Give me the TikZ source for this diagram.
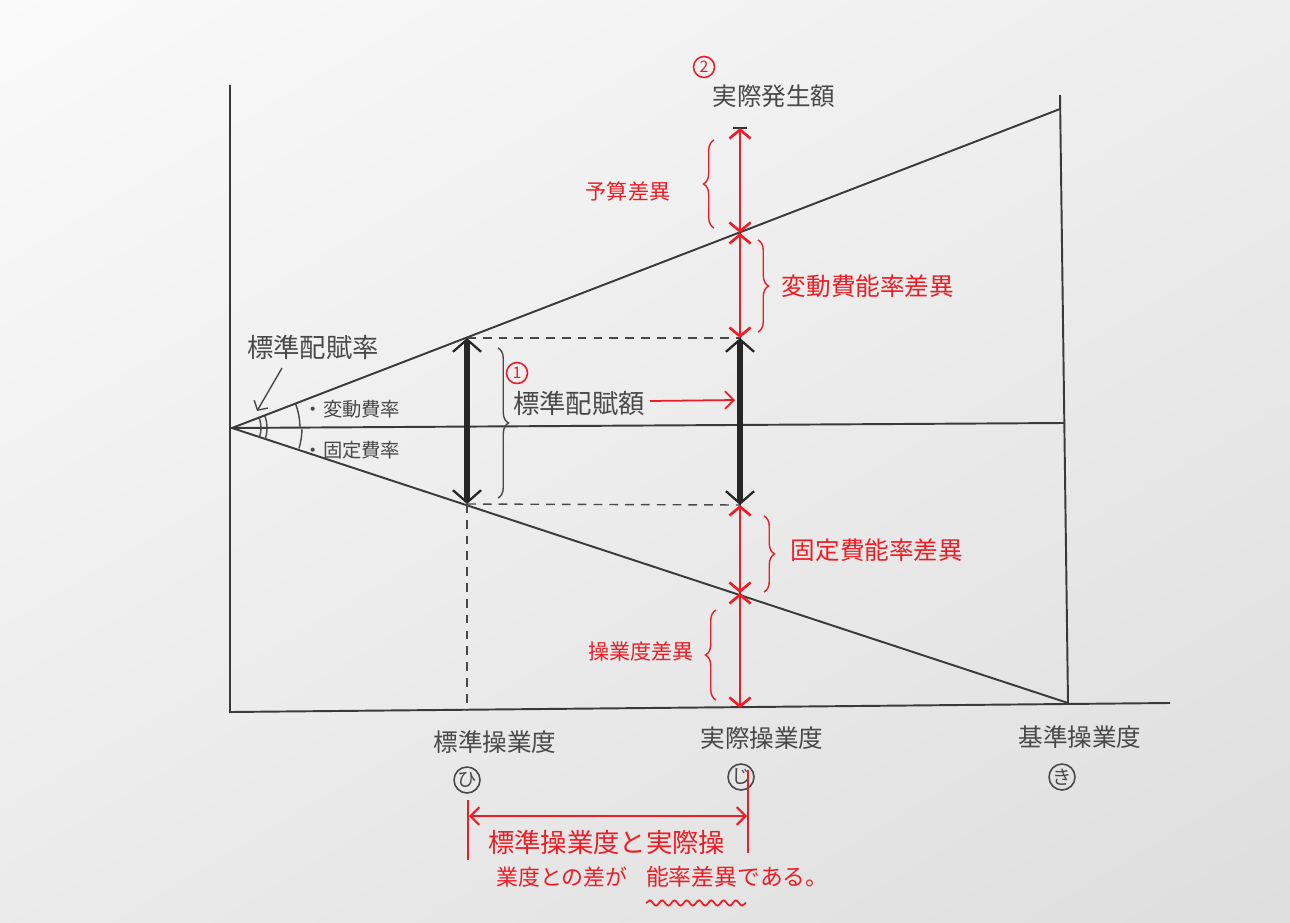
\documentclass[tikz,border=0pt]{standalone}
\usepackage{fontspec}
\setmainfont{Noto Sans CJK JP}
\usetikzlibrary{positioning,calc,arrows.meta,shadings,decorations.pathreplacing,decorations.pathmorphing}

\definecolor{pen}{RGB}{72,72,72}
\definecolor{redpen}{RGB}{238,28,36}

\begin{document}
\begin{tikzpicture}[x=0.02cm, y=-0.02cm,
	lbl/.style={font=\fontsize{14}{16}\selectfont, text=pen, inner sep=1pt},
	rlbl/.style={lbl, text=redpen},
	axis/.style={draw=pen!80!black, line width=1.1pt},
	guide/.style={draw=pen, line width=0.8pt, dash pattern=on 5pt off 4pt},
	tick/.style={draw=pen, circle, line width=0.9pt, minimum size=0.52cm, inner sep=0pt, font=\fontsize{11}{12}\selectfont, text=pen},
	num/.style={draw=redpen, circle, line width=0.9pt, minimum size=0.42cm, inner sep=0pt, font=\fontsize{9}{10}\selectfont, text=redpen},
	bigarr/.style={draw=black!85, line width=3.5pt, {Straight Barb[line width=1.3pt, length=7pt, width=16pt]}-{Straight Barb[line width=1.3pt, length=7pt, width=16pt]}},
	redarr/.style={draw=redpen, line width=1.5pt, {Straight Barb[length=5pt, width=12pt]}-{Straight Barb[length=5pt, width=12pt]}},
	brc/.style={draw=pen, line width=0.8pt, decorate, decoration={brace, amplitude=6pt}},
	rbrc/.style={brc, draw=redpen}]

	% paper
	\shade[upper left=white!96!gray, upper right=gray!14, lower left=gray!16, lower right=gray!26] (0,0) rectangle (1290,922);

	% axes and frame
	\coordinate (O) at (232,428);
	\draw[axis] (230,85) -- (230,712) -- (1170,703);
	\draw[axis] (1060,95) -- (1068,703);
	\coordinate (U) at (1060,109);
	\coordinate (M) at (1064,423);
	\coordinate (L) at (1068,703);
	\draw[axis] (U) -- (O) -- (L);
	\draw[axis] (O) -- (M);

	% points at the standard and the actual level
	\coordinate (su) at (467,338);
	\coordinate (sl) at (467,504);
	\coordinate (au) at (740,233);
	\coordinate (am) at (740,338);
	\coordinate (an) at (740,505);
	\coordinate (al) at (740,593);
	\coordinate (atop) at (740,128);
	\coordinate (abot) at (740,708);

	% guides
	\draw[guide] (su) -- (am);
	\draw[guide] (sl) -- (an);
	\draw[guide] (sl) -- (467,710);

	% angle marks
	\draw[pen, line width=0.8pt] ($(O)+(-21:29)$) arc[start angle=-21, end angle=18, radius=29];
	\draw[pen, line width=0.8pt] ($(O)+(-21:35)$) arc[start angle=-21, end angle=18, radius=35];
	\draw[pen, line width=0.8pt] ($(O)+(-21:68)$) arc[start angle=-21, end angle=-1, radius=68];
	\draw[pen, line width=0.8pt] ($(O)+(1:70)$) arc[start angle=1, end angle=17, radius=70];

	% vertical at the actual level
	\draw[black!80, line width=1.2pt] (atop) -- (abot);
	\draw[black!80, line width=1.2pt] (733,128) -- (747,128);
	\draw[redarr] (atop) -- (au);
	\draw[redarr] (au) -- (am);
	\draw[redarr] (an) -- (al);
	\draw[redarr] (al) -- (abot);
	\draw[bigarr] (am) -- (an);
	\draw[bigarr] (su) -- (sl);

	% braces
	\draw[brc] (498,348) -- (498,498);
	\draw[rbrc] (714,228) -- (714,140);
	\draw[rbrc] (758,240) -- (758,332);
	\draw[rbrc] (764,516) -- (764,592);
	\draw[rbrc] (716,700) -- (716,610);

	% labels
	\node[num] (n2) at (704,67) {2};
	\node[lbl] (actual) at (774,96) {実際発生額};
	\node[rlbl, font=\fontsize{12}{14}\selectfont] (budget) at (628,191) {予算差異};
	\node[rlbl] (vareff) at (868,286) {変動費能率差異};
	\node[rlbl] (fixeff) at (877,550) {固定費能率差異};
	\node[rlbl, font=\fontsize{12}{14}\selectfont] (volume) at (641,651) {操業度差異};

	\node[lbl, font=\fontsize{15}{17}\selectfont] (rate) at (313,347) {標準配賦率};
	\draw[pen, line width=0.8pt, -{Straight Barb[length=4pt, width=9pt]}] (282,368) -- (257,411);
	\node[lbl, font=\fontsize{11}{13}\selectfont] (vrate) at (352,409) {・変動費率};
	\node[lbl, font=\fontsize{11}{13}\selectfont] (frate) at (352,450) {・固定費率};

	\node[num] (n1) at (517,373) {1};
	\node[lbl, font=\fontsize{15}{17}\selectfont] (alloc) at (579,403) {標準配賦額};
	\draw[redpen, line width=1pt, -{Straight Barb[length=5pt, width=10pt]}] (alloc.east) ++(3,-2) -- (735,400);

	% levels
	\node[lbl] (std) at (495,742) {標準操業度};
	\node[tick] (hi) at (467,780) {ひ};
	\node[lbl] (act) at (762,738) {実際操業度};
	\node[tick] (ji) at (741,777) {じ};
	\node[lbl] (base) at (1080,737) {基準操業度};
	\node[tick] (ki) at (1062,777) {き};

	% note below
	\draw[redpen, line width=1pt] (468,800) -- (468,860);
	\draw[redpen, line width=1pt] (748,770) -- (748,853);
	\draw[redpen, line width=1.2pt, {Straight Barb[length=5pt, width=10pt]}-{Straight Barb[length=5pt, width=10pt]}] (469,816) -- (747,816);
	\node[rlbl, font=\fontsize{15}{17}\selectfont, anchor=west] (note1) at (486,842) {標準操業度と実際操};
	\node[rlbl, font=\fontsize{12.5}{15}\selectfont, anchor=west] (note2) at (494,877) {業度との差が};
	\node[rlbl, font=\fontsize{13}{15}\selectfont, anchor=west] (note3) at (644,877) {能率差異である。};
	\draw[redpen, line width=1pt, decorate, decoration={snake, amplitude=1.5pt, segment length=7pt}] (646,903) -- (746,903);
\end{tikzpicture}
\end{document}
